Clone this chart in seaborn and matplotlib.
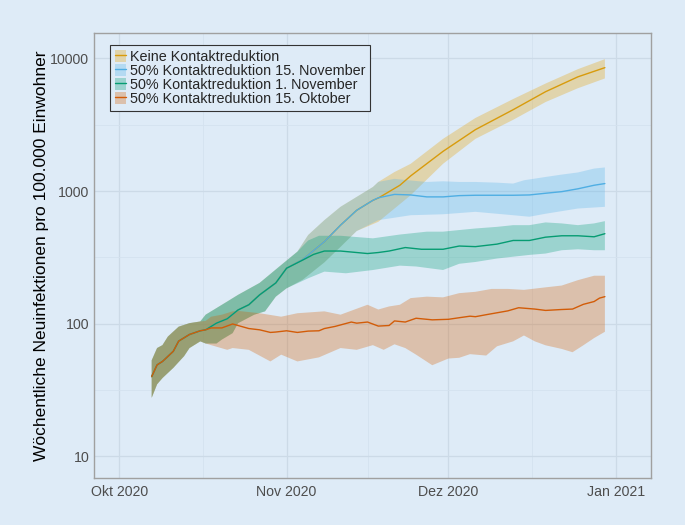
import numpy as np
import pandas as pd
import matplotlib
matplotlib.use("Agg")
import matplotlib.pyplot as plt
import matplotlib.dates as mdates
from matplotlib.patches import Patch
from matplotlib.lines import Line2D
from matplotlib.ticker import FixedLocator, NullFormatter
import seaborn as sns

START = pd.Timestamp("2020-10-01")

SCENARIOS = ["Keine Kontaktreduktion",
             "50% Kontaktreduktion 15. November",
             "50% Kontaktreduktion 1. November",
             "50% Kontaktreduktion 15. Oktober"]
COLORS = ["#E69F00", "#56B4E9", "#009E73", "#D55E00"]
LINE_COLORS = ["#D89B0C", "#4FAEE3", "#069C72", "#D25C08"]

Y_LABEL = "Wöchentliche Neuinfektionen pro 100.000 Einwohner"
X_TICK_DATES = ["2020-10-01", "2020-11-01", "2020-12-01", "2021-01-01"]
X_TICK_LABELS = ["Okt 2020", "Nov 2020", "Dez 2020", "Jan 2021"]
Y_TICKS = [10, 100, 1000, 10000]
Y_TICK_LABELS = ["10", "100", "1000", "10000"]

# ---- Keine Kontaktreduktion (day = days after 1 Oct 2020)
KEINE_DAYS = [6, 7, 8, 10, 11, 13, 15, 16, 18, 20, 22, 24, 26, 29, 31, 34, 38, 41, 44, 47, 48, 52, 54, 60, 66, 73, 79, 85, 90]
KEINE_MED = [40, 49, 52, 62, 74, 83, 88.5, 90, 101, 109, 127, 139, 165, 203, 262, 305, 415, 553, 716, 851, 885, 1105, 1300, 1990, 2900, 4100, 5600, 7250, 8500]
KEINE_UP_DAYS = [6, 7, 8, 9, 11, 13, 15, 16, 20, 22, 26, 30, 33, 35, 38, 41, 44, 47, 48, 51, 54, 60, 66, 73, 79, 85, 90]
KEINE_UP = [53, 65.6, 69, 80, 95, 101, 104, 117, 147, 165, 203, 277, 349, 466, 603, 760, 903, 1072, 1170, 1390, 1603, 2471, 3550, 4933, 6450, 8280, 9850]
KEINE_LO_DAYS = [6, 7, 8, 10, 12, 13, 15, 16, 18, 19, 21, 22, 25, 27, 29, 31, 34, 38, 41, 44, 48, 54, 60, 66, 73, 79, 85, 90]
KEINE_LO = [27.7, 35, 39, 46.5, 57, 65.6, 73.7, 71, 71, 76, 85, 101, 117, 124, 160, 185, 215, 290, 380, 500, 586, 929, 1603, 2471, 3440, 4680, 5950, 7050]

# ---- 50% Kontaktreduktion 15. November
NOV15_DAYS = [6, 7, 8, 10, 11, 13, 15, 16, 18, 20, 22, 24, 26, 29, 31, 34, 38, 41, 44, 47, 48, 51, 54, 57, 60, 63, 66, 69, 73, 76, 79, 82, 85, 88, 90]
NOV15_MED = [40, 49, 52, 62, 74, 83, 88.5, 90, 101, 109, 127, 139, 165, 203, 262, 305, 415, 553, 716, 851, 889, 943, 934, 903, 903, 923, 929, 929, 929, 934, 962, 989, 1039, 1105, 1138]
NOV15_UP_DAYS = [6, 7, 8, 9, 11, 13, 15, 16, 20, 22, 26, 30, 33, 35, 38, 41, 44, 47, 48, 51, 54, 57, 60, 63, 66, 70, 73, 75, 79, 82, 85, 88, 90]
NOV15_UP = [53, 65.6, 69, 80, 95, 101, 104, 117, 147, 165, 203, 277, 349, 466, 603, 760, 903, 1072, 1170, 1235, 1200, 1170, 1184, 1170, 1170, 1156, 1138, 1205, 1276, 1330, 1380, 1476, 1505]
NOV15_LO_DAYS = [6, 7, 8, 10, 12, 13, 15, 16, 18, 19, 21, 22, 25, 27, 29, 31, 34, 38, 41, 44, 48, 54, 60, 66, 73, 76, 79, 85, 90]
NOV15_LO = [27.7, 35, 39, 46.5, 57, 65.6, 73.7, 71, 71, 76, 85, 101, 117, 124, 160, 185, 215, 290, 380, 500, 603, 657, 668, 697, 657, 640, 674, 738, 760]

# ---- 50% Kontaktreduktion 1. November
NOV1_DAYS = [6, 7, 8, 10, 11, 13, 15, 16, 18, 20, 22, 24, 26, 29, 31, 34, 36, 38, 41, 44, 46, 48, 50, 53, 56, 60, 63, 66, 70, 73, 76, 79, 82, 85, 88, 90]
NOV1_MED = [40, 49, 52, 62, 74, 83, 88.5, 90, 101, 109, 127, 139, 165, 203, 262, 302, 333, 353, 353, 344, 338, 344, 353, 375, 364, 364, 385, 381, 398, 424, 424, 449, 460, 460, 452, 477]
NOV1_UP_DAYS = [6, 7, 8, 9, 11, 13, 15, 16, 20, 22, 26, 30, 33, 35, 37, 41, 47, 52, 57, 60, 63, 66, 70, 73, 76, 79, 82, 85, 88, 90]
NOV1_UP = [53, 65.6, 69, 80, 95, 101, 104, 117, 147, 165, 203, 277, 349, 424, 460, 460, 440, 470, 494, 494, 508, 522, 537, 553, 553, 580, 570, 553, 570, 593]
NOV1_LO_DAYS = [6, 7, 8, 10, 12, 13, 15, 16, 18, 19, 21, 22, 25, 27, 29, 31, 35, 38, 42, 47, 52, 55, 60, 63, 66, 70, 73, 76, 79, 82, 85, 88, 90]
NOV1_LO = [27.7, 35, 39, 46.5, 57, 65.6, 73.7, 71, 71, 76, 85, 101, 117, 124, 160, 185, 220, 247, 240, 254, 274, 270, 254, 283, 292, 310, 320, 330, 338, 358, 364, 358, 358]

# ---- 50% Kontaktreduktion 15. Oktober
OKT_DAYS = [6, 7, 8, 10, 11, 13, 15, 16, 17, 19, 21, 22, 24, 26, 28, 29, 31, 33, 35, 37, 38, 40, 43, 44, 46, 48, 50, 51, 53, 55, 58, 61, 63, 65, 66, 68, 72, 74, 77, 79, 82, 84, 86, 88, 89, 90]
OKT_MED = [40, 49, 52, 62, 74, 83, 88.5, 90, 93, 93, 99.6, 97, 92, 90, 86, 86.6, 88.5, 86, 88, 88.5, 92, 95.5, 103, 101, 103, 96, 97, 105, 103, 110, 107, 108, 111, 114, 113, 117, 125, 132, 129, 126, 128, 129, 140, 147, 156, 160]
OKT_UP_DAYS = [6, 7, 8, 9, 11, 13, 15, 16, 17, 19, 21, 22, 26, 30, 33, 38, 41, 46, 48, 50, 52, 54, 57, 60, 63, 66, 69, 72, 75, 79, 82, 85, 88, 90]
OKT_UP = [53, 65.6, 69, 80, 95, 101, 104, 105, 113, 117, 124, 125, 120, 113, 120, 124, 117, 139, 128, 135, 139, 156, 160, 158, 170, 174, 183, 183, 180, 188, 194, 213, 230, 230]
OKT_LO_DAYS = [6, 7, 8, 10, 12, 13, 15, 16, 17, 20, 21, 24, 28, 30, 33, 37, 41, 44, 47, 49, 51, 53, 55, 58, 61, 63, 65, 68, 70, 73, 75, 77, 79, 82, 84, 86, 88, 90]
OKT_LO = [27.7, 35, 39, 46.5, 57, 65.6, 73.7, 71, 69, 63.6, 65.6, 63.6, 52, 58.5, 52, 55.8, 65.6, 63.6, 69, 63.6, 70, 65.6, 58.5, 48.7, 54.7, 55.4, 59, 57.6, 67.6, 73.7, 81.6, 73.7, 68.8, 64.6, 61, 68.8, 78, 87]

SERIES = [
    (KEINE_DAYS, KEINE_MED, KEINE_UP_DAYS, KEINE_UP, KEINE_LO_DAYS, KEINE_LO),
    (NOV15_DAYS, NOV15_MED, NOV15_UP_DAYS, NOV15_UP, NOV15_LO_DAYS, NOV15_LO),
    (NOV1_DAYS, NOV1_MED, NOV1_UP_DAYS, NOV1_UP, NOV1_LO_DAYS, NOV1_LO),
    (OKT_DAYS, OKT_MED, OKT_UP_DAYS, OKT_UP, OKT_LO_DAYS, OKT_LO),
]

def to_dates(days):
    return START + pd.to_timedelta(np.asarray(days, dtype=float), unit="D")

BG = "#DEEBF7"
FONT = ["Liberation Sans", "DejaVu Sans"]

sns.set_theme(style="white")
plt.rcParams["font.family"] = FONT

fig = plt.figure(figsize=(6.85, 5.25), dpi=100, facecolor=BG)
ax = fig.add_axes([0.1368, 0.0890, 0.8140, 0.8476])
ax.set_facecolor(BG)
ax.set_yscale("log")

# ribbons
for (d, m, ud, u, ld, l), col in zip(SERIES, COLORS):
    xs = np.concatenate([mdates.date2num(to_dates(ud)), mdates.date2num(to_dates(ld))[::-1]])
    ys = np.concatenate([np.asarray(u, float), np.asarray(l, float)[::-1]])
    ax.fill(xs, ys, color=col, alpha=0.3, lw=0, zorder=2)

# median lines via seaborn
frames = []
for name, (d, m, *_ ) in zip(SCENARIOS, SERIES):
    frames.append(pd.DataFrame({"date": to_dates(d), "value": m, "scenario": name}))
df = pd.concat(frames, ignore_index=True)
sns.lineplot(data=df, x="date", y="value", hue="scenario", hue_order=SCENARIOS,
             palette=LINE_COLORS, lw=1.0, legend=False, ax=ax, zorder=3)

# axes limits
ax.set_xlim(START + pd.Timedelta(days=-4.75), START + pd.Timedelta(days=98.6))
ax.set_ylim(6.85, 15430)

# ticks
xt = pd.to_datetime(X_TICK_DATES)
ax.xaxis.set_major_locator(FixedLocator(mdates.date2num(xt)))
ax.set_xticklabels(X_TICK_LABELS)
mids = [xt[i] + (xt[i + 1] - xt[i]) / 2 for i in range(len(xt) - 1)]
ax.xaxis.set_minor_locator(FixedLocator(mdates.date2num(pd.DatetimeIndex(mids))))
ax.yaxis.set_major_locator(FixedLocator(Y_TICKS))
ax.set_yticklabels(Y_TICK_LABELS)
ax.yaxis.set_minor_locator(FixedLocator([10 ** 0.5 * t for t in Y_TICKS[:-1]]))
ax.yaxis.set_minor_formatter(NullFormatter())

ax.grid(which="major", color="#CCDAE7", lw=0.9, zorder=0)
ax.grid(which="minor", color="#D4E2EF", lw=0.6, zorder=0)
ax.set_axisbelow(True)

ax.tick_params(axis="x", which="major", length=3, width=0.8, color="#7F7F7F",
               labelcolor="#4D4D4D", labelsize=10.2, pad=2)
ax.tick_params(axis="y", which="major", length=2.2, width=0.8, color="#7F7F7F",
               labelcolor="#4D4D4D", labelsize=10.2, pad=1)
ax.tick_params(axis="both", which="minor", length=0)
for s in ax.spines.values():
    s.set_color("#A0A0A0")
    s.set_linewidth(1.0)

ax.set_xlabel("")
ax.set_ylabel(Y_LABEL, fontsize=12.5, color="black")
ax.yaxis.set_label_coords(-0.08, 0.5)

handles = [(Patch(facecolor=c, alpha=0.3, edgecolor="none"), Line2D([], [], color=lc, lw=1.0))
           for c, lc in zip(COLORS, LINE_COLORS)]
leg = ax.legend(handles, SCENARIOS, loc="upper left", bbox_to_anchor=(0.030, 0.973),
                borderaxespad=0, fontsize=10.4, frameon=True, fancybox=False,
                framealpha=1, facecolor=BG, edgecolor="#333333",
                handlelength=0.75, handleheight=0.9, handletextpad=0.3,
                labelspacing=0.0, borderpad=0.32)
leg.get_frame().set_linewidth(0.8)

fig.savefig("out.png", dpi=100, facecolor=BG)
